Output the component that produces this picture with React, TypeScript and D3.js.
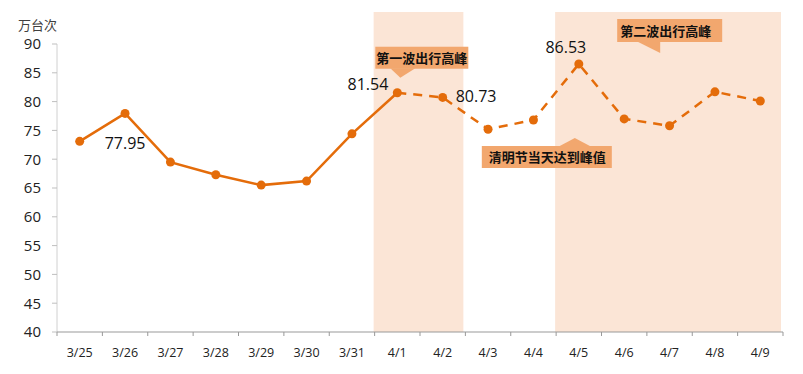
import React from 'react';
import * as d3 from 'd3';

// daily traffic, 万台次
const dates = ['3/25', '3/26', '3/27', '3/28', '3/29', '3/30', '3/31', '4/1', '4/2', '4/3', '4/4', '4/5', '4/6', '4/7', '4/8', '4/9'];
const values = [73.1, 77.95, 69.5, 67.3, 65.5, 66.2, 74.4, 81.54, 80.73, 75.2, 76.8, 86.53, 77.0, 75.8, 81.7, 80.1];
const yTicks = [40, 45, 50, 55, 60, 65, 70, 75, 80, 85, 90];
const solidEnd = '4/1'; // solid until here, dashed afterwards
const shaded = [['4/1', '4/2'], ['4/5', '4/9']];
const labelled = ['3/26', '4/1', '4/2', '4/5'];

const W = 803;
const H = 374;
const margin = { top: 44, right: 20, bottom: 42, left: 57 };
const orange = '#E46C0A';
const calloutFill = '#F2A76E';
const font = '"Open Sans", "Noto Sans CJK SC", sans-serif';
const cjk = '"Noto Sans CJK SC", sans-serif';

export default function App() {
  const x = d3.scaleBand().domain(dates).range([margin.left, W - margin.right]);
  const y = d3.scaleLinear().domain([40, 90]).range([H - margin.bottom, margin.top]);
  const cx = (d: string) => (x(d) as number) + x.bandwidth() / 2;

  const pts = dates.map((d, i) => ({ d, v: values[i] }));
  const cut = dates.indexOf(solidEnd);
  const line = d3.line<{ d: string; v: number }>().x((p) => cx(p.d)).y((p) => y(p.v));

  // label placements relative to the point
  const labelPos: Record<string, { dx: number; dy: number; anchor: string }> = {
    '3/26': { dx: 0, dy: 36, anchor: 'middle' },
    '4/1': { dx: -9, dy: -3, anchor: 'end' },
    '4/2': { dx: 13, dy: 5, anchor: 'start' },
    '4/5': { dx: -13, dy: -11, anchor: 'middle' },
  };

  const vOf = (d: string) => values[dates.indexOf(d)];

  // callouts
  const c1x = cx('4/1');
  const c1y = y(vOf('4/1'));
  const c2x = cx('4/5');
  const c3x = cx('4/6');

  return (
    <svg width={W} height={H} style={{ position: 'absolute', left: 0, top: 0, background: '#fff' }}>
      {shaded.map(([a, b]) => (
        <rect
          key={a}
          x={(x(a) as number) - 1}
          y={12}
          width={(x(b) as number) + x.bandwidth() - (x(a) as number) - 1}
          height={H - margin.bottom - 12}
          fill="#FBE5D6"
        />
      ))}

      {/* y axis */}
      <line x1={margin.left} x2={margin.left} y1={y(90)} y2={y(40)} stroke="#D0D0D0" strokeWidth={1} />
      {yTicks.map((t) => (
        <g key={t}>
          <line x1={margin.left - 5} x2={margin.left} y1={y(t)} y2={y(t)} stroke="#BFBFBF" />
          <text x={41} y={y(t)} dy="0.36em" textAnchor="end" fontSize={15} fontFamily={font} fill="#222">
            {t}
          </text>
        </g>
      ))}
      <text x={18} y={30} fontSize={13} fontFamily={cjk} fill="#404040">万台次</text>

      {/* x axis */}
      <line x1={margin.left} x2={W - margin.right} y1={y(40)} y2={y(40)} stroke="#999" strokeWidth={1} />
      {dates.map((d) => (
        <line key={d} x1={x(d)} x2={x(d)} y1={y(40)} y2={y(40) + 4} stroke="#999" />
      ))}
      <line x1={W - margin.right} x2={W - margin.right} y1={y(40)} y2={y(40) + 4} stroke="#999" />
      {dates.map((d) => (
        <text key={d} x={cx(d)} y={357} textAnchor="middle" fontSize={12.5} fontFamily={font} fill="#222">
          {d}
        </text>
      ))}

      {/* lines */}
      <path d={line(pts.slice(0, cut + 1)) as string} fill="none" stroke={orange} strokeWidth={2.5} />
      <path d={line(pts.slice(cut)) as string} fill="none" stroke={orange} strokeWidth={2.5} strokeDasharray="9,7" />
      {pts.map((p) => (
        <circle key={p.d} cx={cx(p.d)} cy={y(p.v)} r={4.5} fill={orange} />
      ))}

      {labelled.map((d) => {
        const lp = labelPos[d];
        return (
          <text key={d} x={cx(d) + lp.dx} y={y(vOf(d)) + lp.dy} textAnchor={lp.anchor} fontSize={16} fontFamily={font} fill="#111">
            {vOf(d).toFixed(2)}
          </text>
        );
      })}

      {/* callout 1 */}
      <g>
        <rect x={c1x - 22} y={c1y - 46} width={93} height={22} fill={calloutFill} />
        <path d={`M${c1x - 7},${c1y - 24.5} L${c1x + 18},${c1y - 24.5} L${c1x + 3},${c1y - 15} Z`} fill={calloutFill} />
        <text x={c1x - 21} y={c1y - 30} fontSize={13} fontWeight="bold" fontFamily={cjk} fill="#111">第一波出行高峰</text>
      </g>

      {/* callout 2 */}
      <g>
        <rect x={c2x - 97} y={146} width={130} height={22} fill={calloutFill} />
        <path d={`M${c2x - 20},${146.5} L${c2x + 12},${146.5} L${c2x - 4},${138} Z`} fill={calloutFill} />
        <text x={c2x - 90} y={162} fontSize={13} fontWeight="bold" fontFamily={cjk} fill="#111">清明节当天达到峰值</text>
      </g>

      {/* callout 3 */}
      <g>
        <rect x={c3x - 7} y={19} width={105} height={23} fill={calloutFill} />
        <path d={`M${c3x + 13},${41.5} L${c3x + 36},${41.5} L${c3x + 36},${53} Z`} fill={calloutFill} />
        <text x={c3x - 4} y={35.5} fontSize={13} fontWeight="bold" fontFamily={cjk} fill="#111">第二波出行高峰</text>
      </g>
    </svg>
  );
}
